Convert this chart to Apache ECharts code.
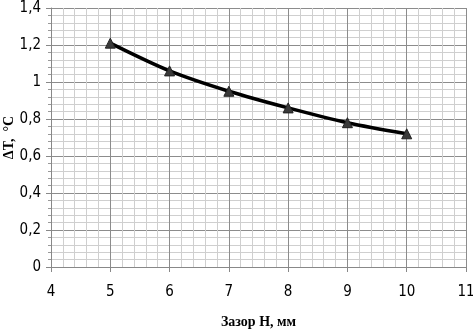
<!DOCTYPE html>
<html><head><meta charset="utf-8">
<script src="https://cdn.jsdelivr.net/npm/echarts@6/dist/echarts.min.js"></script>
<style>html,body{margin:0;padding:0;background:#fff}#c{width:473px;height:335px}</style>
</head><body><div id="c"></div>
<script>
const gapMm = [5, 6, 7, 8, 9, 10];
const deltaT = [1.21, 1.06, 0.95, 0.86, 0.78, 0.72];
const xTitle = 'Зазор Н, мм';
const yTitle = 'ΔT,  °C';

const chart = echarts.init(document.getElementById('c'));
const labelFont = {fontFamily: '"DejaVu Sans Condensed","Liberation Sans Narrow","Open Sans",sans-serif', fontSize: 15, color: '#000'};
chart.setOption({
  animation: false,
  grid: {left: 51, right: 7, top: 8, bottom: 68, containLabel: false, outerBoundsMode: 'none'},
  xAxis: {
    type: 'value', min: 4, max: 11, interval: 1,
    name: xTitle, nameLocation: 'middle', nameGap: 48, nameMoveOverlap: false,
    nameTextStyle: {fontFamily: '"Liberation Serif","Times New Roman",serif', fontWeight: 'bold', fontSize: 14, color: '#000'},
    axisLine: {show: true, lineStyle: {color: '#888', width: 1}},
    axisTick: {show: true, length: 5, lineStyle: {color: '#888'}},
    axisLabel: Object.assign({margin: 18}, labelFont),
    splitLine: {show: true, lineStyle: {color: '#8c8c8c', width: 1}},
    minorTick: {show: false, splitNumber: 5},
    minorSplitLine: {show: true, lineStyle: {color: '#cfcfcf', width: 1}}
  },
  yAxis: {
    type: 'value', min: 0, max: 1.4, interval: 0.2,
    name: yTitle, nameLocation: 'middle', nameGap: 35, nameRotate: 90, nameMoveOverlap: false,
    nameTextStyle: {fontFamily: '"Liberation Serif","Times New Roman",serif', fontWeight: 'bold', fontSize: 14, color: '#000'},
    axisLine: {show: true, lineStyle: {color: '#888', width: 1}},
    axisTick: {show: true, length: 5, lineStyle: {color: '#888'}},
    axisLabel: Object.assign({margin: 10, formatter: v => String(Math.round(v * 10) / 10).replace('.', ',')}, labelFont),
    splitLine: {show: true, lineStyle: {color: '#8c8c8c', width: 1}},
    minorTick: {show: true, splitNumber: 5, length: 3, lineStyle: {color: '#999'}},
    minorSplitLine: {show: true, lineStyle: {color: '#cfcfcf', width: 1}}
  },
  series: [{
    type: 'line',
    data: gapMm.map((x, i) => [x, deltaT[i]]),
    smooth: 0.3,
    symbol: 'triangle', symbolSize: 10,
    itemStyle: {color: '#3a3a3a', borderColor: '#222', borderWidth: 1},
    lineStyle: {color: '#000', width: 3.5}
  }]
});
</script></body></html>
